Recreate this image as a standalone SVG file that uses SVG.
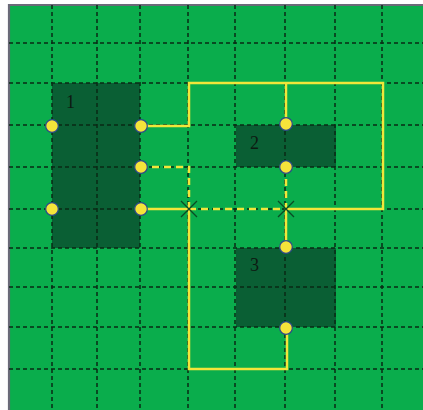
<svg xmlns="http://www.w3.org/2000/svg" width="423" height="410" viewBox="0 0 423 410">
<defs>
<style>
.grid{stroke:#0a2a14;stroke-width:1.5;stroke-dasharray:4 3;fill:none}
.area{fill:#0a5f34}
.wire{stroke:#f2e63a;stroke-width:2.5;fill:none;stroke-linejoin:miter}
.dash{stroke:#f2e63a;stroke-width:2.5;fill:none;stroke-dasharray:7 5}
.pin{fill:#f5e43a;stroke:#2e4a8a;stroke-width:1.2}
.xm{stroke:#0a4a24;stroke-width:1.3;fill:none}
.lbl{font-family:"Liberation Serif",serif;font-size:18px;fill:#0d1a12}
</style>
</defs>
<rect x="0" y="0" width="423" height="410" fill="#ffffff"/>
<rect x="9" y="5" width="414" height="405" fill="#0aad4c"/>
<path d="M8 5H423M9 4V410" stroke="#6a6a78" stroke-width="2.2" fill="none"/>
<g id="area1"><rect class="area" x="52" y="83" width="88" height="165"/><text class="lbl" x="66" y="108">1</text></g>
<g id="area2"><rect class="area" x="236" y="125" width="100" height="42"/><text class="lbl" x="250" y="149">2</text></g>
<g id="area3"><rect class="area" x="236" y="248" width="100" height="79"/><text class="lbl" x="250" y="271">3</text></g>
<g id="grid">
<path class="grid" d="M52 5V410M97 5V410M140 5V410M188 5V410M235 5V410M285 5V410M335 5V410M382 5V410"/>
<path class="grid" d="M9 43H423M9 83H423M9 125H423M9 167H423M9 209H423M9 248H423M9 287H423M9 327H423M9 369H423"/>
</g>
<g id="connectors">
<path class="wire" d="M140 126H189V83H383V209H286"/>
<path class="wire" d="M286 83V124"/>
<path class="wire" d="M140 209H189V369H287V328"/>
<path class="wire" d="M286 209V247"/>
<path class="dash" d="M140 167H189V209"/>
<path class="dash" d="M189 209H286"/>
<path class="dash" d="M286 167V209"/>
</g>
<g id="cross1"><path class="xm" d="M181 201L197 217M197 201L181 217"/></g>
<g id="cross2"><path class="xm" d="M278 201L294 217M294 201L278 217"/></g>
<g id="pins">
<circle class="pin" cx="52" cy="126" r="6.3"/>
<circle class="pin" cx="141" cy="126" r="6.3"/>
<circle class="pin" cx="141" cy="167" r="6.3"/>
<circle class="pin" cx="52" cy="209" r="6.3"/>
<circle class="pin" cx="141" cy="209" r="6.3"/>
<circle class="pin" cx="286" cy="124" r="6.3"/>
<circle class="pin" cx="286" cy="167" r="6.3"/>
<circle class="pin" cx="286" cy="247" r="6.3"/>
<circle class="pin" cx="286" cy="328" r="6.3"/>
</g>
</svg>
